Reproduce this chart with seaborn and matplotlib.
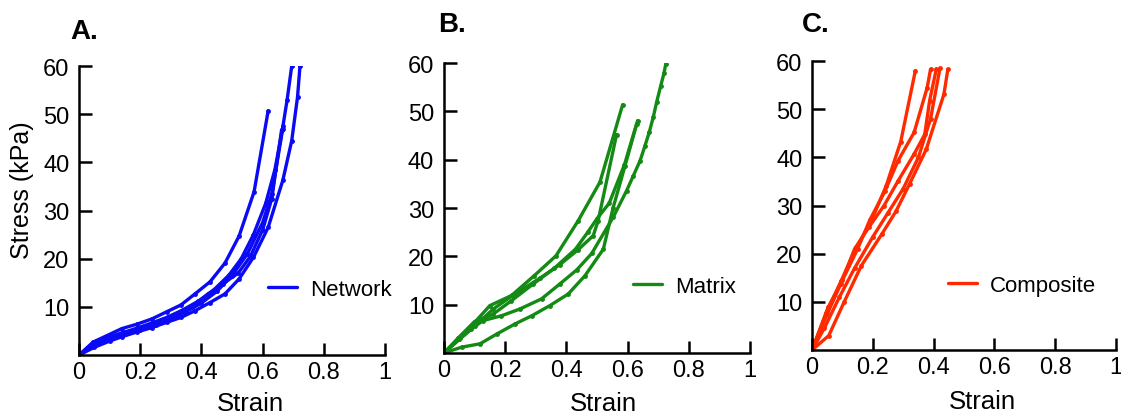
import pandas as pd
import matplotlib
matplotlib.use("Agg")
import matplotlib.pyplot as plt
from matplotlib.lines import Line2D
import seaborn as sns

# Stress-strain curves (strain, stress kPa)
net_x = [
    [0, 0.046, 0.09, 0.14, 0.189, 0.238, 0.287, 0.333, 0.379, 0.428, 0.477, 0.523, 0.572, 0.618],
    [0, 0.045, 0.09, 0.14, 0.19, 0.24, 0.29, 0.34, 0.39, 0.44, 0.49, 0.53, 0.57, 0.61, 0.64, 0.665, 0.68, 0.695],
    [0, 0.05, 0.1, 0.14, 0.19, 0.238, 0.287, 0.333, 0.379, 0.428, 0.477, 0.523, 0.57, 0.618, 0.666, 0.695, 0.714, 0.722],
    [0, 0.05, 0.1, 0.15, 0.2, 0.25, 0.3, 0.35, 0.4, 0.45, 0.5, 0.55, 0.6, 0.63, 0.667],
    [0, 0.045, 0.09, 0.135, 0.18, 0.23, 0.28, 0.32, 0.37, 0.42, 0.47, 0.52, 0.56, 0.6, 0.63, 0.662],
]
net_y = [
    [0, 2.7, 4.0, 5.5, 6.4, 7.5, 9.0, 10.4, 12.7, 15.2, 19.1, 24.7, 33.9, 50.7],
    [0, 2.3, 3.6, 4.6, 5.6, 6.7, 7.9, 9.4, 11.2, 13.5, 16.6, 20.0, 25.0, 31.5, 38.5, 47.0, 53.0, 60.0],
    [0, 1.6, 2.9, 3.8, 4.8, 5.7, 6.8, 7.8, 9.2, 10.9, 12.7, 15.8, 20.3, 26.5, 36.3, 44.5, 53.6, 60.0],
    [0, 2.0, 3.3, 4.3, 5.3, 6.3, 7.5, 9.0, 10.8, 13.2, 16.5, 21.0, 27.5, 33.5, 47.5],
    [0, 1.9, 3.1, 4.2, 5.0, 5.9, 7.0, 8.2, 10.0, 12.6, 14.8, 17.0, 20.5, 26.0, 32.5, 46.8],
]

mat_x = [
    [0, 0.052, 0.09, 0.15, 0.221, 0.295, 0.366, 0.439, 0.51, 0.584],
    [0, 0.05, 0.1, 0.161, 0.227, 0.314, 0.379, 0.439, 0.488, 0.504, 0.564],
    [0, 0.058, 0.118, 0.172, 0.232, 0.287, 0.346, 0.406, 0.461, 0.521, 0.553, 0.592, 0.633],
    [0, 0.05, 0.09, 0.128, 0.188, 0.248, 0.319, 0.379, 0.434, 0.483, 0.553, 0.597, 0.619, 0.641, 0.657, 0.671, 0.684, 0.695, 0.708, 0.719, 0.725],
    [0, 0.045, 0.1, 0.16, 0.22, 0.29, 0.36, 0.43, 0.47, 0.5, 0.54, 0.59, 0.63],
]
mat_y = [
    [0, 3.2, 5.6, 9.8, 11.9, 16.0, 20.1, 27.4, 35.4, 51.4],
    [0, 2.8, 5.5, 9.1, 12.0, 15.5, 18.3, 21.4, 24.3, 27.4, 45.2],
    [0, 1.2, 1.9, 3.9, 6.0, 7.7, 9.8, 12.2, 16.0, 21.5, 30.1, 38.8, 48.1],
    [0, 2.8, 5.0, 6.7, 7.7, 9.1, 11.2, 14.3, 17.2, 20.6, 28.1, 33.6, 36.7, 39.8, 42.9, 45.7, 48.8, 51.9, 55.2, 57.9, 59.8],
    [0, 3.0, 6.5, 8.0, 10.8, 14.2, 17.5, 21.5, 25.0, 27.8, 31.0, 39.0, 47.5],
]

comp_x = [
    [0, 0.047, 0.096, 0.146, 0.195, 0.244, 0.292, 0.34],
    [0, 0.05, 0.1, 0.15, 0.19, 0.24, 0.283, 0.336, 0.379, 0.39],
    [0, 0.053, 0.094, 0.14, 0.188, 0.237, 0.283, 0.336, 0.371, 0.387, 0.409],
    [0, 0.055, 0.105, 0.162, 0.23, 0.277, 0.321, 0.376, 0.434, 0.447],
    [0, 0.04, 0.09, 0.14, 0.2, 0.25, 0.3, 0.35, 0.39, 0.421],
]
comp_y = [
    [0, 7.8, 14.4, 21.3, 26.8, 34.1, 43.3, 58.0],
    [0, 7.5, 14.5, 21.0, 27.0, 33.0, 39.3, 45.2, 54.5, 58.3],
    [0, 8.9, 13.7, 21.0, 25.6, 30.0, 35.1, 40.7, 44.8, 51.8, 58.3],
    [0, 3.0, 9.9, 17.5, 24.1, 28.9, 34.5, 41.7, 53.1, 58.3],
    [0, 4.5, 11.0, 17.0, 23.5, 28.5, 33.5, 40.0, 48.0, 58.5],
]

labels = ["Network", "Matrix", "Composite"]
letters = ["A.", "B.", "C."]
colors = ["#0a0af5", "#138a13", "#ff2a00"]
xticks = [0, 0.2, 0.4, 0.6, 0.8, 1]
xticklabels = ["0", "0.2", "0.4", "0.6", "0.8", "1"]
yticks = [10, 20, 30, 40, 50, 60]

sns.set_style("ticks")
plt.rcParams["font.family"] = ["Liberation Sans", "DejaVu Sans"]
plt.rcParams["text.color"] = "black"
plt.rcParams["axes.labelcolor"] = "black"
plt.rcParams["xtick.color"] = "black"
plt.rcParams["ytick.color"] = "black"

fig = plt.figure(figsize=(11.21, 4.14), dpi=100)
positions = [
    [0.0705, 0.140, 0.273, 0.698],
    [0.396, 0.145, 0.273, 0.700],
    [0.7244, 0.152, 0.271, 0.698],
]
letter_pos = [(0.0754, 0.923), (0.403, 0.940), (0.7275, 0.940)]
legend_pos = [(0.618, 0.228), (0.618, 0.231), (0.447, 0.225)]
xlabel_pos = [(0.56, -0.125), (0.52, -0.131), (0.56, -0.135)]

all_x = [net_x, mat_x, comp_x]
all_y = [net_y, mat_y, comp_y]

for i in range(3):
    rows = []
    for k, (xs, ys) in enumerate(zip(all_x[i], all_y[i])):
        for x, y in zip(xs, ys):
            rows.append({"strain": x, "stress": y, "curve": k, "sample": labels[i]})
    df = pd.DataFrame(rows)

    ax = fig.add_axes(positions[i])
    sns.lineplot(data=df, x="strain", y="stress", hue="sample", units="curve",
                 estimator=None, sort=False, palette=[colors[i]], marker="o",
                 markersize=3.5, markeredgewidth=0, linewidth=2.4, ax=ax,
                 legend=False)

    ax.set_xlim(0, 1)
    ax.set_ylim(0, 60)
    ax.set_xticks(xticks)
    ax.set_xticklabels(xticklabels)
    ax.set_yticks(yticks)
    ax.tick_params(direction="in", length=9, width=1.8, labelsize=17, pad=4)
    ax.tick_params(axis="y", pad=7)
    sns.despine(ax=ax)
    for s in ["left", "bottom"]:
        ax.spines[s].set_linewidth(1.8)
        ax.spines[s].set_color("black")

    ax.set_xlabel("Strain", fontsize=18.5)
    ax.xaxis.set_label_coords(*xlabel_pos[i])
    if i == 0:
        ax.set_ylabel("Stress (kPa)", fontsize=18)
        ax.yaxis.set_label_coords(-0.147, 0.574)
    else:
        ax.set_ylabel("")

    handle = Line2D([], [], color=colors[i], lw=2.4)
    ax.legend([handle], [labels[i]], loc="center left", bbox_to_anchor=legend_pos[i],
              frameon=False, fontsize=16, handlelength=1.3, handletextpad=0.6,
              borderpad=0, borderaxespad=0)

    fig.text(letter_pos[i][0], letter_pos[i][1], letters[i], fontsize=20,
             fontweight="bold", ha="center", va="center")

plt.savefig("out.png", dpi=100)
